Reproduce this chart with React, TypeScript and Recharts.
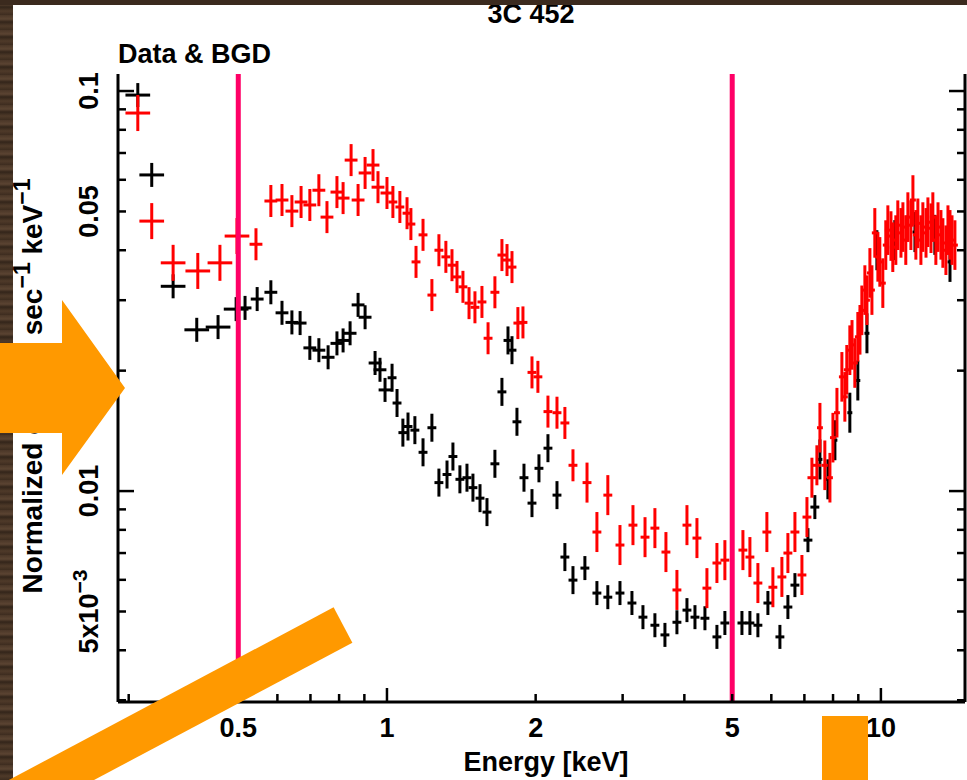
import { ScatterChart, Scatter, XAxis, YAxis, ErrorBar, ReferenceLine } from 'recharts';

// spectrum of 3C 452: source (red) and background (black), counts/s/keV vs keV
const redEnergy = [
  0.313, 0.334, 0.369, 0.414, 0.459, 0.497, 0.543, 0.582, 0.613, 0.642, 0.67, 0.698, 0.728, 0.756, 0.792,
  0.815, 0.846, 0.874, 0.903, 0.937, 0.959, 1.0, 1.028, 1.062, 1.098, 1.118, 1.145, 1.183, 1.233, 1.274,
  1.316, 1.354, 1.386, 1.425, 1.466, 1.507, 1.557, 1.602, 1.654, 1.709, 1.75, 1.791, 1.841, 1.885, 1.966,
  2.021, 2.118, 2.209, 2.292, 2.38, 2.541, 2.661, 2.8, 2.963, 3.148, 3.33, 3.487, 3.671, 3.864, 4.049,
  4.242, 4.444, 4.656, 4.832, 5.256, 5.43, 5.636, 5.877, 6.044, 6.303, 6.482, 6.698, 6.92, 7.084, 7.25,
  7.42, 7.526, 7.7, 7.885, 7.996, 8.147, 8.337, 8.453, 8.53, 8.652, 8.74, 8.855, 8.98, 9.07, 9.15,
  9.28, 9.37, 9.5, 9.59, 9.72, 9.86, 9.95, 10.09, 10.23, 10.33, 10.48, 10.57, 10.72, 10.82, 10.98,
  11.08, 11.23, 11.34, 11.5, 11.61, 11.77, 11.88, 12.05, 12.16, 12.34, 12.45, 12.63, 12.74, 12.92, 13.05,
  13.23, 13.35, 13.54, 13.67, 13.8, 13.93, 14.12,
];
const redCounts = [
  0.0881, 0.0473, 0.0372, 0.0355, 0.0372, 0.0434, 0.0414, 0.0531, 0.0534, 0.0501, 0.0528, 0.0519, 0.0565, 0.0484, 0.0559,
  0.054, 0.0672, 0.0534, 0.0624, 0.0653, 0.0575, 0.0556, 0.0528, 0.0513, 0.0495, 0.0465, 0.0374, 0.0437, 0.0309, 0.04,
  0.0385, 0.0367, 0.0343, 0.0324, 0.0295, 0.0288, 0.0297, 0.0241, 0.0314, 0.0389, 0.0378, 0.0363, 0.0263, 0.0264, 0.0198,
  0.0193, 0.0158, 0.0157, 0.0148, 0.0116, 0.0105, 0.0079, 0.00977, 0.00733, 0.00822, 0.00767, 0.00808, 0.00704, 0.00566, 0.00822,
  0.00763, 0.00572, 0.00661, 0.00672, 0.00712, 0.00684, 0.00589, 0.0079, 0.00575, 0.0061, 0.007, 0.0079, 0.00617, 0.00861, 0.0108,
  0.0116, 0.0144, 0.0116, 0.0108, 0.0136, 0.0157, 0.0193, 0.0172, 0.0201, 0.0225, 0.0232, 0.0209, 0.0243, 0.0253, 0.0283,
  0.0318, 0.03, 0.0351, 0.0318, 0.0442, 0.0385, 0.0374, 0.0331, 0.0412, 0.0449, 0.0434, 0.0407, 0.0424, 0.0462, 0.0442,
  0.0457, 0.0424, 0.0484, 0.0462, 0.0534, 0.0437, 0.0467, 0.0424, 0.0457, 0.0442, 0.047, 0.0454, 0.0484, 0.0424, 0.0457,
  0.0437, 0.0417, 0.04, 0.0449, 0.0437, 0.0424, 0.0412,
];

const blackEnergy = [
  0.313, 0.334, 0.369, 0.412, 0.455, 0.495, 0.516, 0.546, 0.582, 0.613, 0.642, 0.667, 0.698, 0.728, 0.76,
  0.792, 0.815, 0.842, 0.874, 0.903, 0.946, 0.968, 0.991, 1.024, 1.048, 1.077, 1.103, 1.139, 1.183, 1.233,
  1.274, 1.323, 1.36, 1.405, 1.452, 1.493, 1.543, 1.594, 1.654, 1.709, 1.758, 1.791, 1.833, 1.894, 1.966,
  2.031, 2.118, 2.209, 2.292, 2.38, 2.516, 2.661, 2.8, 2.963, 3.133, 3.298, 3.487, 3.654, 3.864, 4.049,
  4.203, 4.403, 4.656, 4.832, 5.232, 5.43, 5.636, 5.905, 6.245, 6.482, 6.698, 7.117, 7.35, 7.526, 7.81,
  8.07, 8.652, 8.98, 9.37, 9.815, 10.67, 11.72, 12.86, 13.8,
];
const blackCounts = [
  0.0977, 0.0617, 0.0325, 0.0253, 0.0257, 0.0285, 0.0287, 0.0302, 0.0314, 0.0279, 0.0264, 0.0263, 0.0228, 0.0225, 0.0216,
  0.0234, 0.0238, 0.0248, 0.0292, 0.0272, 0.0209, 0.0201, 0.0179, 0.0192, 0.0166, 0.014, 0.0145, 0.0142, 0.0125, 0.0144,
  0.0105, 0.011, 0.0122, 0.0107, 0.0108, 0.0102, 0.0096, 0.00886, 0.0117, 0.0177, 0.0238, 0.0225, 0.0149, 0.0108, 0.00933,
  0.0114, 0.0128, 0.00977, 0.00684, 0.00599, 0.00642, 0.00556, 0.00543, 0.00556, 0.00525, 0.00484, 0.00462, 0.00437, 0.0047, 0.00504,
  0.00484, 0.00481, 0.00432, 0.00468, 0.00468, 0.00468, 0.00462, 0.00525, 0.00432, 0.00513, 0.00582, 0.00754, 0.00912, 0.012, 0.0107,
  0.0134, 0.0157, 0.0189, 0.0248, 0.04, 0.0424, 0.0444, 0.0437, 0.0374,
];

// error half-widths in dex, by energy band
const redErrBands = [
  { maxE: 0.5, dx: 0.025, dy: 0.045 },
  { maxE: 1.0, dx: 0.013, dy: 0.04 },
  { maxE: 2.5, dx: 0.009, dy: 0.04 },
  { maxE: 7.5, dx: 0.009, dy: 0.05 },
  { maxE: 99, dx: 0.006, dy: 0.062 },
];
const blackErrBands = [
  { maxE: 0.5, dx: 0.025, dy: 0.03 },
  { maxE: 1.0, dx: 0.013, dy: 0.03 },
  { maxE: 2.5, dx: 0.009, dy: 0.035 },
  { maxE: 7.5, dx: 0.009, dy: 0.03 },
  { maxE: 99, dx: 0.005, dy: 0.05 },
];

const xTicks = [0.3, 0.4, 0.5, 0.6, 0.7, 0.8, 0.9, 1, 2, 3, 4, 5, 6, 7, 8, 9, 10];
const xLabels: [number, string][] = [[0.5, '0.5'], [1, '1'], [2, '2'], [5, '5'], [10, '10']];
const xMajor = [1, 10];
const yTicks = [0.003, 0.004, 0.005, 0.006, 0.007, 0.008, 0.009, 0.01, 0.02, 0.03, 0.04, 0.05, 0.06, 0.07, 0.08, 0.09, 0.1];
const yLabels: [number, string][] = [[0.1, '0.1'], [0.05, '0.05'], [0.01, '0.01']];
const yMajor = [0.01, 0.1];
const markers = [0.5, 5];

const X_DOMAIN = [0.2854, 14.8];
const Y_DOMAIN = [0.00297, 0.1103];
const FONT = '"Liberation Sans", Arial, sans-serif';
const ORANGE = '#ff9900';
const ERR_W = 3;

type Band = { maxE: number; dx: number; dy: number };

function buildSeries(energy: number[], counts: number[], bands: Band[]) {
  return energy.map((e, i) => {
    const b = bands.find((k) => e <= k.maxE) as Band;
    const v = counts[i];
    const fx = Math.pow(10, b.dx);
    const fy = Math.pow(10, b.dy);
    return { e, v, ex: [e - e / fx, e * fx - e], ey: [v - v / fy, v * fy - v] };
  });
}

const redData = buildSeries(redEnergy, redCounts, redErrBands);
const blackData = buildSeries(blackEnergy, blackCounts, blackErrBands);

const same = (a: number, b: number) => Math.abs(a - b) < 1e-9;
const textStyle = { fontFamily: FONT, fontWeight: 700, fill: '#000' } as const;

const BottomTick = ({ x, y, payload }: any) => {
  const v = payload.value;
  const len = xMajor.some((m) => same(m, v)) ? 14 : 8;
  const lab = xLabels.find(([k]) => same(k, v));
  return (
    <g>
      <line x1={x} y1={y} x2={x} y2={y - len} stroke="#000" strokeWidth={2.5} />
      {lab && (
        <text x={x} y={y + 35} textAnchor="middle" fontSize={27} {...textStyle}>
          {lab[1]}
        </text>
      )}
    </g>
  );
};

const TopTick = ({ x, y, payload }: any) => {
  const len = xMajor.some((m) => same(m, payload.value)) ? 14 : 8;
  return <line x1={x} y1={y} x2={x} y2={y + len} stroke="#000" strokeWidth={2.5} />;
};

const LeftTick = ({ x, y, payload }: any) => {
  const v = payload.value;
  const len = yMajor.some((m) => same(m, v)) ? 16 : 8;
  const lab = yLabels.find(([k]) => same(k, v));
  const tx = x - 20;
  return (
    <g>
      <line x1={x} y1={y} x2={x + len} y2={y} stroke="#000" strokeWidth={2.5} />
      {lab && (
        <text x={tx} y={y} transform={`rotate(-90 ${tx} ${y})`} textAnchor="middle" fontSize={27} {...textStyle}>
          {lab[1]}
        </text>
      )}
      {same(v, 0.005) && (
        <text x={tx} y={y} transform={`rotate(-90 ${tx} ${y})`} textAnchor="middle" fontSize={27} {...textStyle}>
          5x10
          <tspan dy={-11} fontSize={21}>
            −3
          </tspan>
        </text>
      )}
    </g>
  );
};

const RightTick = ({ x, y, payload }: any) => {
  const len = yMajor.some((m) => same(m, payload.value)) ? 16 : 8;
  return <line x1={x} y1={y} x2={x - len} y2={y} stroke="#000" strokeWidth={2.5} />;
};

const noDot = () => <g />;
const axisStyle = { stroke: '#000', strokeWidth: 3 };

export default function App() {
  return (
    <div
      style={{
        position: 'fixed',
        left: 0,
        top: 0,
        width: 967,
        height: 780,
        overflow: 'hidden',
        background:
          'repeating-linear-gradient(180deg, #4a3627 0px, #5b4432 4px, #33251a 7px, #4f3a29 11px, #3d2c1f 15px)',
      }}
    >
      <div style={{ position: 'absolute', left: 13, top: 5, width: 954, height: 775, background: '#fff' }} />
      <div style={{ position: 'absolute', left: 0, top: 0 }}>
        <ScatterChart width={967} height={780} margin={{ top: 74, right: 0, bottom: 0, left: 0 }}>
          <XAxis
            xAxisId="bottom"
            dataKey="e"
            type="number"
            scale="log"
            domain={X_DOMAIN}
            allowDataOverflow
            ticks={xTicks}
            interval={0}
            tickSize={0}
            tickMargin={0}
            tickLine={false}
            height={78}
            axisLine={axisStyle}
            tick={(p: any) => <BottomTick {...p} />}
          />
          <XAxis
            xAxisId="top"
            orientation="top"
            dataKey="e"
            type="number"
            scale="log"
            domain={X_DOMAIN}
            allowDataOverflow
            ticks={xTicks}
            interval={0}
            tickSize={0}
            tickMargin={0}
            tickLine={false}
            height={0}
            axisLine={axisStyle}
            tick={(p: any) => <TopTick {...p} />}
          />
          <YAxis
            yAxisId="left"
            dataKey="v"
            type="number"
            scale="log"
            domain={Y_DOMAIN}
            allowDataOverflow
            ticks={yTicks}
            interval={0}
            tickSize={0}
            tickMargin={0}
            tickLine={false}
            width={118}
            axisLine={axisStyle}
            tick={(p: any) => <LeftTick {...p} />}
          />
          <YAxis
            yAxisId="right"
            orientation="right"
            dataKey="v"
            type="number"
            scale="log"
            domain={Y_DOMAIN}
            allowDataOverflow
            ticks={yTicks}
            interval={0}
            tickSize={0}
            tickMargin={0}
            tickLine={false}
            width={2}
            axisLine={axisStyle}
            tick={(p: any) => <RightTick {...p} />}
          />
          <Scatter
            name="BGD"
            data={blackData}
            xAxisId="bottom"
            yAxisId="left"
            shape={noDot}
            isAnimationActive={false}
          >
            <ErrorBar dataKey="ex" direction="x" width={0} stroke="#000" strokeWidth={ERR_W} />
            <ErrorBar dataKey="ey" direction="y" width={0} stroke="#000" strokeWidth={ERR_W} />
          </Scatter>
          <Scatter
            name="Data"
            data={redData}
            xAxisId="bottom"
            yAxisId="left"
            shape={noDot}
            isAnimationActive={false}
          >
            <ErrorBar dataKey="ex" direction="x" width={0} stroke="#ff0000" strokeWidth={ERR_W} />
            <ErrorBar dataKey="ey" direction="y" width={0} stroke="#ff0000" strokeWidth={ERR_W} />
          </Scatter>
          {markers.map((m) => (
            <ReferenceLine key={m} x={m} xAxisId="bottom" yAxisId="left" stroke="#ff0066" strokeWidth={5} />
          ))}
        </ScatterChart>
      </div>
      <svg width={967} height={780} style={{ position: 'absolute', left: 0, top: 0, pointerEvents: 'none' }}>
        <text x={531} y={23} textAnchor="middle" fontSize={27} {...textStyle}>
          3C 452
        </text>
        <text x={118} y={63} fontSize={27} {...textStyle}>
          Data &amp; BGD
        </text>
        <text x={546} y={771} textAnchor="middle" fontSize={27} {...textStyle}>
          Energy [keV]
        </text>
        <text x={42} y={386} transform="rotate(-90 42 386)" textAnchor="middle" fontSize={28} {...textStyle}>
          Normalized counts sec
          <tspan dy={-12} fontSize={23}>
            −1
          </tspan>
          <tspan dy={12}>{'  keV'}</tspan>
          <tspan dy={-12} fontSize={23}>
            −1
          </tspan>
        </text>
        <rect x={0} y={0} width={967} height={5} fill="#3b2a1e" />
        <polygon points="0,343 62,343 62,300 125,388 62,475 62,433 0,433" fill={ORANGE} />
        <line x1={343} y1={625} x2={-20} y2={818} stroke={ORANGE} strokeWidth={40} />
        <rect x={822} y={716} width={46} height={64} fill={ORANGE} />
      </svg>
    </div>
  );
}
